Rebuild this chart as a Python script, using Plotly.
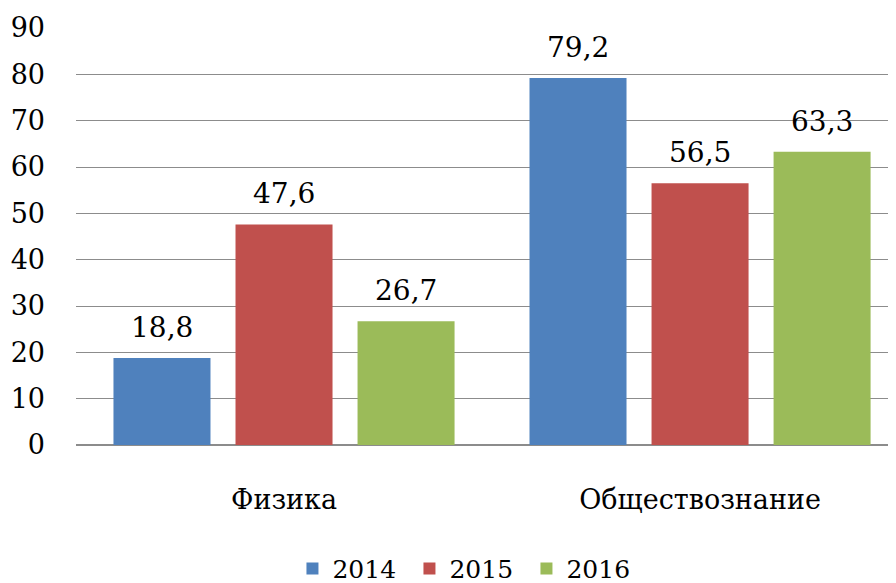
import plotly.graph_objects as go

categories = ["Физика", "Обществознание"]
years = ["2014", "2015", "2016"]
values_2014 = [18.8, 79.2]
values_2015 = [47.6, 56.5]
values_2016 = [26.7, 63.3]
colors = ["#4F81BD", "#C0504D", "#9BBB59"]
y_ticks = [0, 10, 20, 30, 40, 50, 60, 70, 80, 90]

FONT = "DejaVu Serif"

fig = go.Figure()
series = [values_2014, values_2015, values_2016]
for name, vals, col in zip(years, series, colors):
    fig.add_trace(go.Bar(
        x=categories, y=vals, name=name,
        marker=dict(color=col, line=dict(width=0)),
    ))

slot_px = 122
for i, vals in enumerate(series):
    for cat, v in zip(categories, vals):
        fig.add_annotation(
            x=cat, y=v, text=f"{v:.1f}".replace(".", ","), showarrow=False,
            xshift=(i - 1) * slot_px, yanchor="bottom", yshift=12,
            font=dict(family=FONT, size=28, color="black"),
        )

fig.update_layout(
    width=888, height=575,
    margin=dict(l=68, r=0, t=20, b=138, autoexpand=False),
    paper_bgcolor="white", plot_bgcolor="white",
    barmode="group", bargap=0.12, bargroupgap=0.205,
    font=dict(family=FONT, size=26, color="black"),
    showlegend=True,
    legend=dict(orientation="h", x=0.478, xanchor="center",
                yref="container", y=0.025, yanchor="middle",
                font=dict(family=FONT, size=25, color="black"),
                itemwidth=30, entrywidth=72, traceorder="normal"),
)
fig.update_xaxes(range=[-0.5, 1.471], showgrid=False, showline=False, zeroline=False,
                 ticks="", ticklabelstandoff=36, automargin=False,
                 tickfont=dict(family=FONT, size=27, color="black"))
fig.update_yaxes(range=[0, 90], tickvals=y_ticks, showgrid=True, gridcolor="#8c8c8c", gridwidth=1,
                 zeroline=True, zerolinecolor="#8c8c8c", zerolinewidth=2,
                 showline=False, ticks="", ticklabelstandoff=30, automargin=False,
                 tickfont=dict(family=FONT, size=27, color="black"))

fig.write_html("out.html")
